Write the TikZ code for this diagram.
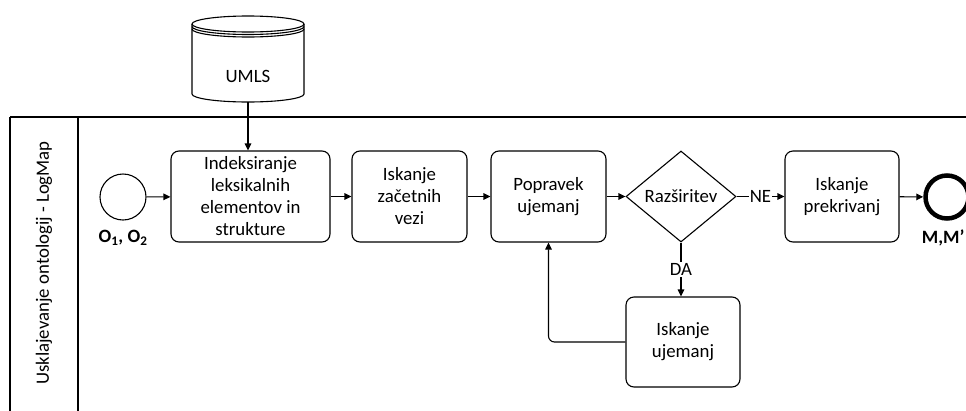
\documentclass[tikz,border=0pt]{standalone}
\usepackage{fontspec}
\setmainfont{Carlito}
\usetikzlibrary{arrows.meta,shapes.geometric}
\begin{document}
\begin{tikzpicture}[x=1pt,y=-1pt,
  font=\fontsize{18.8}{22}\selectfont,
  line width=1.1pt,
  flow/.style={-{Triangle[length=7pt,width=6.5pt]}},
  task/.style={draw,rounded corners=8pt,fill=white,align=center,
    minimum height=91pt,inner sep=0pt},
  gate/.style={draw,diamond,minimum width=110pt,minimum height=91pt,inner sep=0pt},
  startev/.style={draw,circle,minimum size=46pt,inner sep=0pt},
  endev/.style={draw,circle,line width=4.5pt,minimum size=43pt,inner sep=0pt},
  evlabel/.style={font=\bfseries\fontsize{18.8}{22}\selectfont},
  gatelabel/.style={fill=white,inner sep=1pt}]
\useasboundingbox (0,0) rectangle (966,410);
\clip (0,0) rectangle (966,410);

% pool with a single lane
\draw[line width=1.5pt] (10,117) -- (975,117);
\draw[line width=1.3pt] (10,117) -- (10,420);
\draw[line width=1.3pt] (78,117) -- (78,420);
\node[rotate=90] (lane) at (44,263) {Usklajevanje ontologij - LogMap};

% UMLS data store (cylinder with lined lid)
\draw[fill=white] (192,24) -- (192,94) arc[start angle=180,end angle=0,x radius=56,y radius=8]
  -- (304,24);
\draw[fill=white] (248,24) ellipse[x radius=56,y radius=8];
\draw (192,26.5) arc[start angle=180,end angle=0,x radius=56,y radius=8];
\draw (192,29) arc[start angle=180,end angle=0,x radius=56,y radius=8];
\node (umls) at (248,76) {UMLS};
\coordinate (umlsb) at (248,102);

% events
\node[startev] (start) at (123,197) {};
\node[evlabel] (startlbl) at (123,238) {O\textsubscript{1}, O\textsubscript{2}};
\node[endev] (end) at (947,197) {};
\node[evlabel,anchor=east,inner sep=0pt] (endlbl) at (965,238) {M,M'};

% tasks
\node[task,minimum width=159pt] (t1) at (250.5,196.5)
  {Indeksiranje\\leksikalnih\\elementov in\\strukture};
\node[task,minimum width=115pt] (t2) at (409.5,196.5) {Iskanje\\začetnih\\vezi};
\node[task,minimum width=115pt] (t3) at (548.5,196.5) {Popravek\\ujemanj};
\node[gate,label=center:Razširitev] (g) at (681,196.5) {};
\node[task,minimum width=114pt] (t4) at (842,196.5) {Iskanje\\prekrivanj};
\node[task,minimum width=114pt,minimum height=90pt] (t5) at (683,342) {Iskanje\\ujemanj};

% sequence flows
\draw[flow] (umlsb) -- (t1.north -| umlsb);
\draw[flow] (start) -- (t1);
\draw[flow] (t1) -- (t2);
\draw[flow] (t2) -- (t3);
\draw[flow] (t3) -- (g);
\draw[flow] (g.east) -- node[gatelabel] (ne) {NE} (t4.west);
\draw[flow] (g.south) -- node[gatelabel] (da) {DA} (t5.north -| g.south);
\draw[flow] (t4) -- (end);
\draw[flow,rounded corners=6pt] (t5.west) -| (t3.south);
\end{tikzpicture}
\end{document}
